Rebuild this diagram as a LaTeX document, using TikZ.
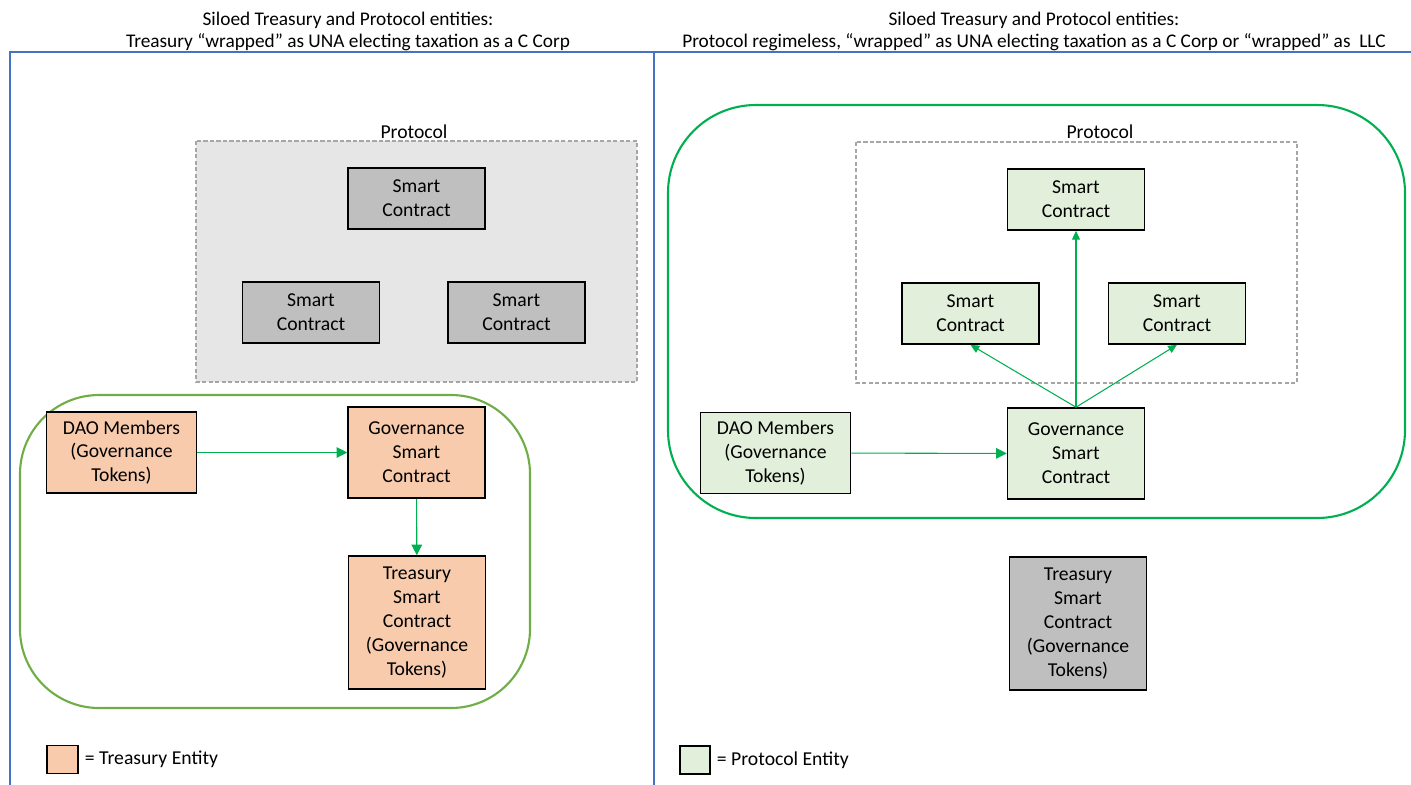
\documentclass[tikz,border=0pt]{standalone}
\usepackage{fontspec}
\setmainfont{Carlito}
\usetikzlibrary{arrows.meta,positioning}

\definecolor{treasury}{HTML}{F8CBAD}
\definecolor{protoent}{HTML}{E2EFDA}
\definecolor{scgray}{HTML}{BFBFBF}
\definecolor{protofill}{HTML}{E6E6E6}
\definecolor{dashgray}{HTML}{A6A6A6}
\definecolor{panelblue}{HTML}{4472C4}
\definecolor{wrapgreen}{HTML}{00B050}
\definecolor{leafgreen}{HTML}{70AD47}

\begin{document}
\begin{tikzpicture}[x=0.02cm,y=-0.02cm,
  box/.style={draw=black,line width=0.9pt,align=center,inner sep=1pt,
    minimum width=2.74cm,font=\fontsize{11.2}{13.6}\selectfont},
  scbox/.style={box,minimum height=1.22cm},
  govbox/.style={box,minimum height=1.82cm},
  treasbox/.style={box,minimum height=2.66cm},
  daobox/.style={box,minimum width=3cm,minimum height=1.62cm},
  flow/.style={draw=wrapgreen,line width=0.6pt,-{Triangle[length=6pt,width=6pt]}},
  thinflow/.style={flow,-{Triangle[length=5pt,width=4.5pt]}},
  label/.style={font=\fontsize{11.2}{13.6}\selectfont},
  title/.style={align=center,font=\fontsize{11}{12.5}\selectfont}]
\useasboundingbox (0,0) rectangle (1411,785);

% panels
\draw[panelblue,line width=1pt] (10,785) -- (10,52) -- (1411,52);
\draw[panelblue,line width=1pt] (654,52) -- (654,785);
\node[title] (ltitle) at (348,31) {Siloed Treasury and Protocol entities:\\Treasury “wrapped” as UNA electing taxation as a C Corp};
\node[title] (rtitle) at (1034,31) {Siloed Treasury and Protocol entities:\\Protocol regimeless, “wrapped” as UNA electing taxation as a C Corp or “wrapped” as\ \ LLC};

% left: protocol block
\draw[dashgray,fill=protofill,dash pattern=on 2.5pt off 1.2pt,line width=0.8pt] (196,141) rectangle (637,382);
\node[label] (lproto) at (414,132) {Protocol};
\node[scbox,fill=scgray] (lsctop) at (416.5,198.5) {Smart\\Contract};
\node[scbox,fill=scgray] (lscleft) at (311,312.5) {Smart\\Contract};
\node[scbox,fill=scgray] (lscright) at (516.5,312.5) {Smart\\Contract};

% left: treasury wrapper
\draw[leafgreen,line width=1.2pt,rounded corners=45] (20,395) rectangle (530,708);
\node[daobox,fill=treasury] (ldao) at (121.5,452.5) {DAO Members\\(Governance\\Tokens)};
\node[govbox,fill=treasury] (lgov) at (416.5,452.5) {Governance\\Smart\\Contract};
\node[treasbox,fill=treasury] (ltreas) at (417,622.5) {Treasury\\Smart\\Contract\\(Governance\\Tokens)};
\draw[flow] (ldao) -- (lgov);
\draw[flow] (lgov) -- (ltreas);

% left legend
\node[draw,line width=0.9pt,fill=treasury,minimum width=0.62cm,minimum height=0.56cm] (lkey) at (62.5,759.5) {};
\node[label,right=0pt of lkey] (lkeytext) {= Treasury Entity};

% right: protocol wrapper
\draw[wrapgreen,line width=1.2pt,rounded corners=50] (668,105) rectangle (1405,518);
\draw[dashgray,dash pattern=on 2.5pt off 1.2pt,line width=0.8pt] (856,142) rectangle (1297,383);
\node[label] (rproto) at (1100,132) {Protocol};
\node[scbox,fill=protoent] (rsctop) at (1076,199.5) {Smart\\Contract};
\node[scbox,fill=protoent] (rscleft) at (970.5,313.5) {Smart\\Contract};
\node[scbox,fill=protoent] (rscright) at (1177,313.5) {Smart\\Contract};
\node[daobox,fill=protoent] (rdao) at (775.5,453) {DAO Members\\(Governance\\Tokens)};
\node[govbox,fill=protoent] (rgov) at (1076,453.5) {Governance\\Smart\\Contract};
\draw[flow] (rdao) -- (rgov);
\draw[thinflow] (rgov.north) -- (rsctop.south);
\draw[thinflow] (rgov.north) -- (rscleft.south);
\draw[thinflow] (rgov.north) -- (rscright.south);

% right: treasury outside
\node[treasbox,fill=scgray] (rtreas) at (1078,623.5) {Treasury\\Smart\\Contract\\(Governance\\Tokens)};

% right legend
\node[draw,line width=0.9pt,fill=protoent,minimum width=0.6cm,minimum height=0.56cm] (rkey) at (695,760) {};
\node[label,right=0pt of rkey] (rkeytext) {= Protocol Entity};
\end{tikzpicture}
\end{document}
